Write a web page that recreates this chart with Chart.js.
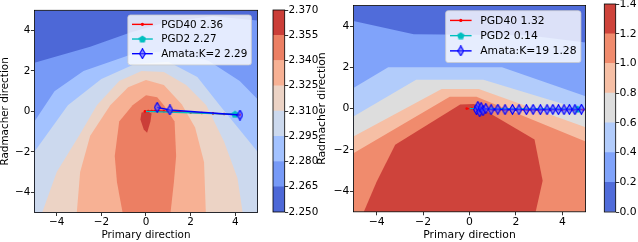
<!DOCTYPE html>
<html>
<head>
<meta charset="utf-8">
<script src="https://cdn.jsdelivr.net/npm/chart.js@4.4.0/dist/chart.umd.min.js"></script>
<style>
  html, body { margin: 0; padding: 0; background: #fff; }
  body { width: 638px; height: 242px; position: relative; overflow: hidden; }
  canvas { position: absolute; top: 0; }
</style>
</head>
<body>
<canvas id="leftPlot" width="263" height="242" style="left:0px"></canvas>
<canvas id="leftBar" width="56" height="242" style="left:262px"></canvas>
<canvas id="rightPlot" width="274" height="242" style="left:317px"></canvas>
<canvas id="rightBar" width="48" height="242" style="left:590px"></canvas>
<script>
// ---- data ----
const xTicks = [-4, -2, 0, 2, 4];
const yTicks = [-4, -2, 0, 2, 4];

// left panel: filled contour regions (value >= level), outermost first
const leftLevels = [2.25, 2.265, 2.28, 2.295, 2.31, 2.325, 2.34, 2.355, 2.37];
const leftBand0 = [[-5, -5], [-5, 5], [5, 5], [5, -5]];
const leftBand1 = [[-5, -5], [-5, 2.4], [-2.5, 3.2], [-0.7, 3.9], [1, 4.45], [3, 4.7], [5, 4.5], [5, -5]];
const leftBand2 = [[-5, -5], [-5, -0.5], [-4.1, 1.0], [-2.8, 2.0], [-0.7, 2.8], [1, 3.0], [2.8, 2.5], [4.2, 1.5], [5, 0.6], [5, -5]];
const leftBand3 = [[-5, -5], [-5, -2.0], [-3.5, 0.3], [-2, 1.6], [-0.5, 2.35], [1, 2.45], [2.3, 1.7], [3.3, 0.3], [5, -2.0], [5, -5]];
const leftBand4 = [[-4.65, -5], [-4.0, -3.0], [-3.0, -1.2], [-2.2, 0.3], [-1.2, 1.5], [-0.2, 2.0], [0.8, 1.95], [1.8, 1.3], [2.7, 0.3], [3.5, -1.5], [4.1, -3.3], [4.33, -5]];
const leftBand5 = [[-3.1, -5], [-2.95, -3], [-2.5, -1.2], [-1.6, 0.3], [-0.8, 1.2], [0, 1.55], [0.8, 1.3], [1.6, 0.35], [2.2, -0.8], [2.6, -2.5], [2.68, -5]];
const leftBand6 = [[-1.05, -5], [-1.3, -3.5], [-1.4, -2.2], [-1.2, -0.5], [-0.6, 0.3], [0, 0.8], [0.5, 0.7], [0.8, 0.3], [1.28, -0.5], [1.35, -2.2], [1.25, -3.5], [1.1, -5]];
const leftBand7 = [[-0.25, -0.4], [-0.2, -0.05], [0.1, 0.0], [0.25, -0.1], [0.2, -0.5], [0.05, -1.05], [-0.1, -0.9]];

const leftPgd40 = [[-0.05, 0.0], [0.1, 0.02], [0.25, 0.02], [0.4, 0.02], [0.55, 0.02], [0.8, 0.01], [1.1, 0.0], [1.5, -0.02], [2.0, -0.05], [2.5, -0.08], [3.0, -0.1], [3.5, -0.13], [4.0, -0.15], [4.2, -0.17]];
const leftPgd2 = [[0, 0], [3.99, -0.14]];
const leftAmata = [[0.5, 0.2], [1.07, 0.07], [4.21, -0.18]];
const leftLabels = ['PGD40 2.36', 'PGD2 2.27', 'Amata:K=2 2.29'];

// right panel
const rightLevels = [0.0, 0.2, 0.4, 0.6, 0.8, 1.0, 1.2, 1.4];
const rightBand0 = [[-5, -5], [-5, 5], [5, 5], [5, -5]];
const rightBand1 = [[-5, -5], [-5, 4.25], [-2.4, 3.6], [2.5, 3.55], [5, 3.2], [5, -5]];
const rightBand2 = [[-5, -5], [-5, 1.0], [-3.5, 2.0], [1.4, 2.0], [5, 0.6], [5, -5]];
const rightBand3 = [[-5, -5], [-5, -0.38], [-2.3, 1.4], [0.6, 1.4], [5, -0.1], [5, -5]];
const rightBand4 = [[-5, -5], [-5, -1.35], [-1.2, 0.95], [0.4, 0.95], [5, -0.9], [5, -5]];
const rightBand5 = [[-5, -5], [-5, -2.16], [-0.85, 0.57], [0.3, 0.57], [5, -1.6], [5, -5]];
const rightBand6 = [[-4.55, -5], [-4.0, -3.55], [-3.2, -1.75], [-0.4, 0.2], [0.2, 0.22], [2.8, -1.5], [3.15, -3.5], [2.85, -5]];

const rightPgd40 = [[-0.12, 0.0], [0.1, 0.0], [0.3, -0.02], [0.6, -0.03], [1.0, -0.04], [1.5, -0.05], [2.0, -0.05], [2.5, -0.06], [3.0, -0.06], [3.5, -0.05], [4.0, -0.05], [4.5, -0.05], [4.9, -0.05]];
const rightPgd2 = [[0, 0], [4.65, -0.02]];
const rightAmataX = [0.30, 0.36, 0.44, 0.50, 0.58, 0.70, 0.93, 1.22, 1.53, 1.85, 2.13, 2.45, 2.74, 3.05, 3.34, 3.59, 3.83, 4.07, 4.30, 4.54, 4.82];
const rightAmataY = [-0.05, 0.1, -0.15, 0.05, -0.1, 0.0, -0.05, -0.03, -0.05, -0.04, -0.05, -0.05, -0.04, -0.05, -0.05, -0.04, -0.05, -0.05, -0.04, -0.05, -0.03];
const rightLabels = ['PGD40 1.32', 'PGD2 0.14', 'Amata:K=19 1.28'];

// ---- styles ----
const leftColors = ['rgb(77,104,215)', 'rgb(119,154,247)', 'rgb(163,194,255)', 'rgb(204,217,238)',
  'rgb(236,211,197)', 'rgb(247,177,148)', 'rgb(236,127,99)', 'rgb(203,62,56)'];
const rightColors = ['rgb(80,108,218)', 'rgb(128,163,250)', 'rgb(178,204,251)', 'rgb(221,221,221)',
  'rgb(246,191,165)', 'rgb(240,139,109)', 'rgb(206,67,59)'];
const FONT = 'DejaVu Sans';
Chart.defaults.font.family = FONT;
Chart.defaults.color = '#000';

function marker(w, h, draw) {
  const c = document.createElement('canvas');
  c.width = w; c.height = h;
  draw(c.getContext('2d'), w, h);
  return c;
}
const pentagon = marker(8, 8, (g, w, h) => {
  g.beginPath();
  for (let k = 0; k < 5; k++) {
    const a = -Math.PI / 2 + k * 2 * Math.PI / 5;
    g.lineTo(w / 2 + 3.9 * Math.cos(a), h / 2 + 0.3 + 3.9 * Math.sin(a));
  }
  g.closePath();
  g.fillStyle = '#00bfbf';
  g.fill();
});
const thinDiamond = marker(7, 11, (g) => {
  g.beginPath();
  g.moveTo(3.5, 0.6); g.lineTo(6.4, 5.5); g.lineTo(3.5, 10.4); g.lineTo(0.6, 5.5);
  g.closePath();
  g.fillStyle = 'rgba(90,90,255,0.6)';
  g.fill();
  g.strokeStyle = '#0000ff';
  g.lineWidth = 1.1;
  g.stroke();
});

const fmtMinus = v => String(v).replace('-', '\u2212');
const pts = arr => arr.map(p => ({x: p[0], y: p[1]}));

const framePlugin = {
  id: 'frame',
  afterDatasetsDraw(chart) {
    const {ctx, chartArea: a} = chart;
    ctx.save();
    ctx.strokeStyle = '#000';
    ctx.lineWidth = 0.8;
    ctx.strokeRect(a.left, a.top, a.right - a.left, a.bottom - a.top);
    ctx.restore();
  }
};

const legendPlugin = {
  id: 'boxLegend',
  afterDatasetsDraw(chart, args, o) {
    const {ctx, chartArea: a} = chart;
    const F = o.fontSize;
    const items = chart.data.datasets.filter(d => d.label);
    ctx.save();
    ctx.font = F + 'px "' + FONT + '"';
    const tw = Math.max(...items.map(d => ctx.measureText(d.label).width));
    const pad = 0.4 * F, handle = 2 * F, gap = 0.8 * F;
    const w = pad + handle + gap + tw + pad;
    const h = 4.8 * F;
    const x0 = a.right - o.right - w, y0 = a.top + o.top;
    ctx.beginPath();
    ctx.roundRect(x0, y0, w, h, 2.5);
    ctx.fillStyle = 'rgba(255,255,255,0.8)';
    ctx.fill();
    ctx.strokeStyle = '#cccccc';
    ctx.lineWidth = 0.8;
    ctx.stroke();
    items.forEach((d, i) => {
      const y = y0 + 0.9 * F + i * 1.41 * F;
      const hx = x0 + pad;
      ctx.strokeStyle = d.borderColor;
      ctx.lineWidth = d.borderWidth;
      ctx.beginPath();
      ctx.moveTo(hx, y); ctx.lineTo(hx + handle, y);
      ctx.stroke();
      const cx = hx + handle / 2;
      if (d.pointStyle instanceof HTMLCanvasElement) {
        ctx.drawImage(d.pointStyle, cx - d.pointStyle.width / 2, y - d.pointStyle.height / 2);
      } else {
        ctx.fillStyle = d.pointBackgroundColor;
        ctx.beginPath();
        ctx.arc(cx, y, 1.6, 0, Math.PI * 2);
        ctx.fill();
      }
      ctx.fillStyle = '#000';
      ctx.textBaseline = 'middle';
      ctx.textAlign = 'left';
      ctx.fillText(d.label, hx + handle + gap, y + 0.5);
    });
    ctx.restore();
  }
};

function contourChart(id, bands, colors, lines, labels, lay) {
  const datasets = bands.map((b, i) => ({
    data: pts(b),
    backgroundColor: colors[i],
    borderColor: 'transparent',
    borderWidth: 0,
    pointRadius: 0,
    fill: 'shape',
    tension: 0,
    order: 100 - i
  }));
  datasets.push({
    label: labels[0], data: pts(lines[0]), borderColor: '#ff0000', borderWidth: 1.4,
    pointStyle: 'circle', pointRadius: 1.3, pointBackgroundColor: '#ff0000', pointBorderWidth: 0,
    fill: false, tension: 0, order: 3
  });
  datasets.push({
    label: labels[1], data: pts(lines[1]), borderColor: '#00bfbf', borderWidth: 1.4,
    pointStyle: pentagon, pointRadius: lines[1].map((p, i) => i === lines[1].length - 1 ? 4 : 0),
    pointBackgroundColor: '#00bfbf', fill: false, tension: 0, order: 2
  });
  datasets.push({
    label: labels[2], data: pts(lines[2]), borderColor: '#0000ff', borderWidth: 1.4,
    pointStyle: thinDiamond, pointRadius: 4, pointBackgroundColor: '#0000ff',
    fill: false, tension: 0, order: 1
  });
  const font = {family: FONT, size: lay.fontSize};
  return new Chart(document.getElementById(id), {
    type: 'line',
    data: {datasets},
    options: {
      responsive: false,
      animation: false,
      events: [],
      devicePixelRatio: 1,
      layout: {padding: {top: lay.top, right: lay.right, left: 0, bottom: 0}},
      plugins: {legend: {display: false}, tooltip: {enabled: false}, boxLegend: lay.legend},
      scales: {
        x: {
          type: 'linear', min: -5, max: 5,
          afterBuildTicks: s => { s.ticks = xTicks.map(v => ({value: v})); },
          afterFit: s => { s.height = lay.xHeight; s.paddingLeft = 0; s.paddingRight = 0; },
          ticks: {callback: fmtMinus, color: '#000', font, padding: 0, maxRotation: 0, autoSkip: false},
          grid: {drawOnChartArea: false, tickLength: 3.5, tickColor: '#000', tickWidth: 0.8},
          border: {display: false},
          title: {display: true, text: 'Primary direction', color: '#000',
            font: {family: FONT, size: lay.fontSize, lineHeight: 1.2}, padding: {top: 0, bottom: 0}}
        },
        y: {
          type: 'linear', min: -5, max: 5,
          afterBuildTicks: s => { s.ticks = yTicks.map(v => ({value: v})); },
          afterFit: s => { s.width = lay.yWidth; s.paddingTop = 0; s.paddingBottom = 0; },
          ticks: {callback: fmtMinus, color: '#000', font, padding: 0.5, autoSkip: false},
          grid: {drawOnChartArea: false, tickLength: 3.5, tickColor: '#000', tickWidth: 0.8},
          border: {display: false},
          title: {display: true, text: 'Radmacher direction', color: '#000',
            font: {family: FONT, size: lay.fontSize, lineHeight: 1.0}, padding: {top: 0, bottom: 0}}
        }
      }
    },
    plugins: [framePlugin, legendPlugin]
  });
}

function colorbarChart(id, levels, colors, digits, lay) {
  const datasets = colors.map((c, i) => ({
    data: [[levels[i], levels[i + 1]]],
    backgroundColor: c,
    borderWidth: 0,
    barPercentage: 1,
    categoryPercentage: 1,
    grouped: false
  }));
  return new Chart(document.getElementById(id), {
    type: 'bar',
    data: {labels: [''], datasets},
    options: {
      responsive: false,
      animation: false,
      events: [],
      devicePixelRatio: 1,
      layout: {padding: {left: lay.left, top: lay.top, right: 0, bottom: lay.bottom}},
      plugins: {legend: {display: false}, tooltip: {enabled: false}},
      scales: {
        x: {display: false},
        y: {
          position: 'right', min: levels[0], max: levels[levels.length - 1],
          afterBuildTicks: s => { s.ticks = levels.map(v => ({value: v})); },
          afterFit: s => { s.width = lay.width; s.paddingTop = 0; s.paddingBottom = 0; },
          ticks: {callback: v => v.toFixed(digits), color: '#000', font: {family: FONT, size: lay.fontSize}, padding: 0.3, autoSkip: false},
          grid: {drawOnChartArea: false, tickLength: 3.5, tickColor: '#000', tickWidth: 0.8},
          border: {display: false}
        }
      }
    },
    plugins: [framePlugin]
  });
}

contourChart('leftPlot',
  [leftBand0, leftBand1, leftBand2, leftBand3, leftBand4, leftBand5, leftBand6, leftBand7],
  leftColors, [leftPgd40, leftPgd2, leftAmata], leftLabels,
  {top: 10.3, right: 2.8, xHeight: 29.5, yWidth: 34.4, fontSize: 10.4,
   legend: {top: 4.7, right: 6.2, fontSize: 10.4}});

contourChart('rightPlot',
  [rightBand0, rightBand1, rightBand2, rightBand3, rightBand4, rightBand5, rightBand6],
  rightColors, [rightPgd40, rightPgd2, rightAmataX.map((x, i) => [x, rightAmataY[i]])], rightLabels,
  {top: 3.8, right: 2, xHeight: 30.2, yWidth: 36.4, fontSize: 10.8,
   legend: {top: 5.3, right: 4.7, fontSize: 10.8}});

colorbarChart('leftBar', leftLevels, leftColors, 3,
  {left: 11, top: 10, bottom: 30, width: 33.3, fontSize: 10.4});
colorbarChart('rightBar', rightLevels, rightColors, 1,
  {left: 14.3, top: 4, bottom: 30, width: 22.3, fontSize: 10.8});
</script>
</body>
</html>
